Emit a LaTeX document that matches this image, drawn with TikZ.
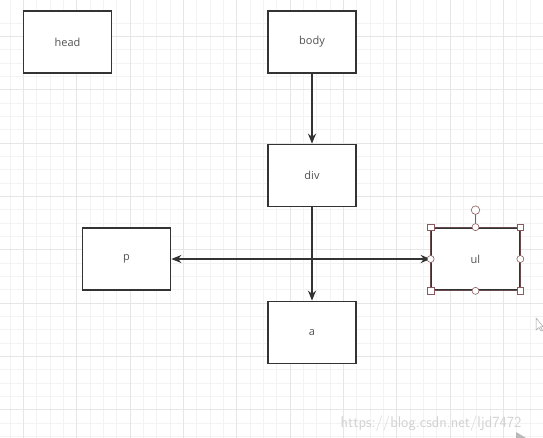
\documentclass[tikz,border=0pt]{standalone}
\usepackage{fontspec}
\setmainfont{Open Sans}
\usetikzlibrary{arrows.meta}
\definecolor{minorg}{HTML}{F3F3F3}
\definecolor{majorg}{HTML}{E6E6E6}
\definecolor{edge}{HTML}{333333}
\definecolor{handle}{HTML}{8A5A5E}
\tikzset{
  box/.style={draw=edge, line width=1.7pt, fill=white, minimum width=88pt, minimum height=62pt, inner sep=0pt, font=\fontsize{11}{13}\selectfont, text=edge!85},
  conn/.style={draw=edge, line width=1.7pt, -{Stealth[length=10pt,width=8pt]}},
  sq/.style={draw=handle, fill=white, line width=0.6pt, minimum size=6.5pt, inner sep=0pt},
  ci/.style={draw=handle, fill=white, line width=0.6pt, circle, minimum size=7pt, inner sep=0pt},
}
\begin{document}
\begin{tikzpicture}[x=1pt,y=-1pt]
\useasboundingbox (0,0) rectangle (543,438);
\fill[white] (0,0) rectangle (543,438);
% grid
\foreach \i in {-1,...,40} {
  \draw[minorg, line width=0.6pt] ({23.33+13.333*\i},0) -- ({23.33+13.333*\i},438);
  \draw[minorg, line width=0.6pt] (0,{36.3+13.333*\i}) -- (543,{36.3+13.333*\i});
}
\foreach \i in {-1,...,10} {
  \draw[majorg, line width=0.7pt] ({23.33+53.333*\i},0) -- ({23.33+53.333*\i},438);
  \draw[majorg, line width=0.7pt] (0,{36.3+53.333*\i}) -- (543,{36.3+53.333*\i});
}
% nodes
\node[box] (head) at (67.5,42) {head};
\node[box] (body) at (312,42) {body};
\node[box] (div) at (312,175.5) {div};
\node[box] (p) at (126.5,259) {p};
\node[box] (ul) at (475.5,259) {ul};
\node[box] (a) at (312,332.5) {a};
% connectors
\draw[conn] (body) -- (div);
\draw[conn] (div) -- (a);
\draw[conn, {Stealth[length=10pt,width=8pt]}-{Stealth[length=10pt,width=8pt]}] (p.east) -- (ul.west);
% selection handles on ul
\draw[handle!60!edge, line width=0.8pt] (ul.north west) rectangle (ul.south east);
\coordinate (rot) at ([yshift=17pt]ul.north);
\draw[handle, line width=0.6pt] (ul.north) -- (rot);
\node[ci, minimum size=8.5pt] (rh) at (rot) {};
\foreach \c in {north west,north east,south west,south east} \node[sq] at (ul.\c) {};
\foreach \c in {north,south,east,west} \node[ci] at (ul.\c) {};
% watermark
\node[anchor=base west, text=gray!35, font=\fontsize{15.5}{17}\selectfont\sffamily] (wm) at (337,427) {https://blog.csdn.net/ljd7472};
% cursor
\draw[gray!70, line width=0.5pt, fill=white] (536,318) -- (536,330) -- (539,327.5) -- (541,331) -- (542.5,330.3) -- (540.5,327) -- (543,326.5) -- cycle;
% bottom-right play badge
\draw[gray!25, line width=0.8pt] (500,438) arc (180:110:25);
\fill[gray!55] (516,432) -- (516,438) -- (526,438) -- cycle;
\end{tikzpicture}
\end{document}
